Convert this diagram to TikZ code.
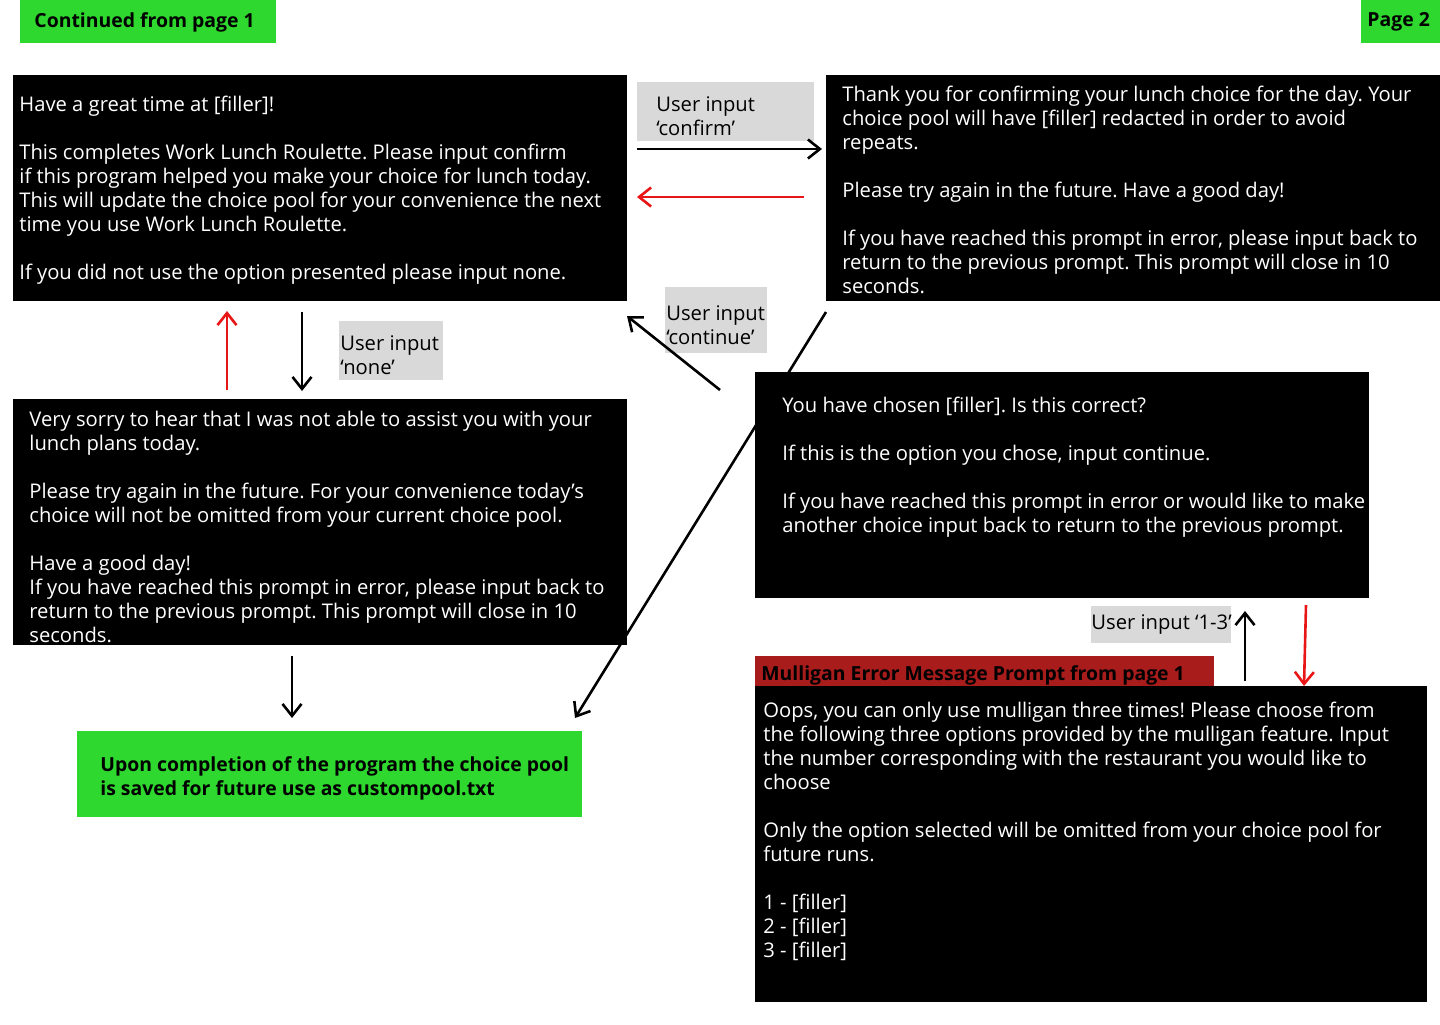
\documentclass[tikz,border=0pt]{standalone}
\usepackage{fontspec}
\setmainfont{Open Sans}
\usetikzlibrary{arrows.meta}
\frenchspacing

\definecolor{pagegreen}{RGB}{46,216,46}
\definecolor{hdrred}{RGB}{168,28,28}
\definecolor{tagnote}{RGB}{217,217,217}
\definecolor{backred}{RGB}{232,22,22}

\tikzset{
	screen/.style={fill=black, inner sep=0pt, anchor=north west},
	tag/.style={fill=tagnote, inner sep=0pt, anchor=north west},
	banner/.style={fill=pagegreen, inner sep=0pt, anchor=north west},
	msg/.style={text=white, align=left, inner sep=0pt, anchor=north west,
		font=\fontsize{10.1}{12}\selectfont},
	note/.style={text=black, align=left, inner sep=0pt, anchor=north west,
		font=\fontsize{10.1}{12}\selectfont},
	head/.style={text=black, align=left, inner sep=0pt, anchor=west,
		font=\fontsize{9.7}{12}\selectfont\bfseries},
	flow/.style={line width=1.3pt, -{Straight Barb[length=6pt,width=9.5pt]}},
	back/.style={flow, backred}
}

\begin{document}
\begin{tikzpicture}[x=0.5pt, y=-0.5pt]

	\useasboundingbox (0,0) rectangle (1440,1024);

	% page banners
	\node[banner, minimum width=128pt, minimum height=21.5pt] (contbox) at (20,0) {};
	\node[head] (conttxt) at (34,22) {Continued from page 1};
	\node[banner, minimum width=39.5pt, minimum height=21.5pt] (pagebox) at (1361,0) {};
	\node[head] (pagetxt) at (1367,22) {Page 2};

	% screens
	\node[screen, minimum width=307pt, minimum height=113pt] (great) at (13,75) {};
	\node[msg] (greattxt) at (19,96) {Have a great time at [filler]!\\[12pt]
		This completes Work Lunch Roulette. Please input confirm\\
		if this program helped you make your choice for lunch today.\\
		This will update the choice pool for your convenience the next\\
		time you use Work Lunch Roulette.\\[12pt]
		If you did not use the option presented please input none.};

	\node[screen, minimum width=307pt, minimum height=113pt] (thanks) at (826,75) {};
	\node[msg] (thankstxt) at (842,86) {Thank you for confirming your lunch choice for the day. Your\\
		choice pool will have [filler] redacted in order to avoid\\
		repeats.\\[12pt]
		Please try again in the future. Have a good day!\\[12pt]
		If you have reached this prompt in error, please input back to\\
		return to the previous prompt. This prompt will close in 10\\
		seconds.};

	\node[screen, minimum width=307pt, minimum height=123pt] (sorry) at (13,399) {};
	\node[msg] (sorrytxt) at (29,411) {Very sorry to hear that I was not able to assist you with your\\
		lunch plans today.\\[12pt]
		Please try again in the future. For your convenience today’s\\
		choice will not be omitted from your current choice pool.\\[12pt]
		Have a good day!\\
		If you have reached this prompt in error, please input back to\\
		return to the previous prompt. This prompt will close in 10\\
		seconds.};

	\node[screen, minimum width=307pt, minimum height=113pt] (chosen) at (755,372) {};
	\node[msg] (chosentxt) at (782,397) {You have chosen [filler]. Is this correct?\\[12pt]
		If this is the option you chose, input continue.\\[12pt]
		If you have reached this prompt in error or would like to make\\
		another choice input back to return to the previous prompt.};

	% mulligan prompt
	\node[fill=hdrred, inner sep=0pt, anchor=north west, minimum width=229.5pt, minimum height=16.5pt] (mullhdr) at (755,656) {};
	\node[head] (mullhdrtxt) at (761,675) {Mulligan Error Message Prompt from page 1};
	\node[screen, minimum width=336pt, minimum height=158pt] (mulligan) at (755,686) {};
	\node[msg] (mulligantxt) at (763,702) {Oops, you can only use mulligan three times! Please choose from\\
		the following three options provided by the mulligan feature. Input\\
		the number corresponding with the restaurant you would like to\\
		choose\\[12pt]
		Only the option selected will be omitted from your choice pool for\\
		future runs.\\[12pt]
		1 - [filler]\\
		2 - [filler]\\
		3 - [filler]};

	% saved pool
	\node[banner, minimum width=252.5pt, minimum height=43pt] (saved) at (77,731) {};
	\node[note, font=\fontsize{9.7}{12}\selectfont\bfseries] (savedtxt) at (100,756) {Upon completion of the program the choice pool\\
		is saved for future use as custompool.txt};

	% user input tags
	\node[tag, minimum width=88.5pt, minimum height=29.5pt] (confirmtag) at (637,82) {};
	\node[note] (confirmtxt) at (656,96) {User input\\‘confirm’};
	\node[tag, minimum width=51pt, minimum height=33pt] (continuetag) at (665,287) {};
	\node[note] (continuetxt) at (666,305) {User input\\‘continue’};
	\node[tag, minimum width=52pt, minimum height=29.5pt] (nonetag) at (339,321) {};
	\node[note] (nonetxt) at (340,335) {User input\\‘none’};
	\node[tag, minimum width=70pt, minimum height=18.5pt] (pickstag) at (1091,606) {};
	\node[note, anchor=west] (pickstxt) at (1091,625) {User input ‘1-3’};

	% arrow ends
	\coordinate (cfA) at (637,149);
	\coordinate (cfB) at (822,149);
	\coordinate (bkA) at (804,197);
	\coordinate (bkB) at (637,197);
	\coordinate (ctA) at (720,390);
	\coordinate (ctB) at (627,316);
	\coordinate (svA) at (826,312);
	\coordinate (svB) at (575,718);
	\coordinate (upA) at (227,390);
	\coordinate (upB) at (227,311);
	\coordinate (nnA) at (302,312);
	\coordinate (nnB) at (302,391);
	\coordinate (dnA) at (292,656);
	\coordinate (dnB) at (292,718);
	\coordinate (pkA) at (1245,681);
	\coordinate (pkB) at (1245,611);
	\coordinate (rdA) at (1306,605);
	\coordinate (rdB) at (1304,686);

	% arrows
	\draw[flow] (cfA) -- (cfB);
	\draw[back] (bkA) -- (bkB);
	\draw[flow] (ctA) -- (ctB);
	\draw[flow] (svA) -- (svB);
	\draw[back] (upA) -- (upB);
	\draw[flow] (nnA) -- (nnB);
	\draw[flow] (dnA) -- (dnB);
	\draw[flow] (pkA) -- (pkB);
	\draw[back] (rdA) -- (rdB);

\end{tikzpicture}
\end{document}
